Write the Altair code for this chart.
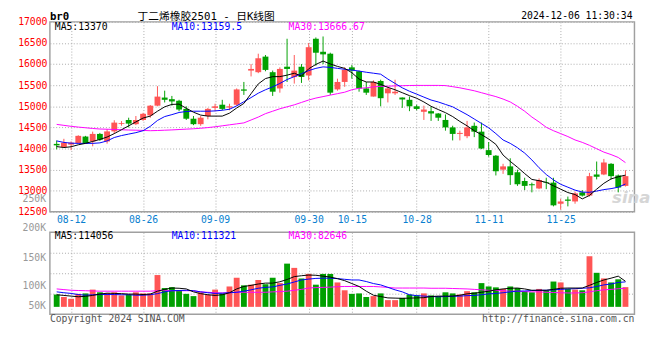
import altair as alt
import pandas as pd

# ---------------- data ----------------
DATES = ["08-08","08-09","08-12","08-13","08-14","08-15","08-16","08-19","08-20","08-21",
         "08-22","08-23","08-26","08-27","08-28","08-29","08-30","09-02","09-03","09-04",
         "09-05","09-06","09-09","09-10","09-11","09-12","09-13","09-18","09-19","09-20",
         "09-23","09-24","09-25","09-26","09-27","09-30","10-08","10-09","10-10","10-11",
         "10-14","10-15","10-16","10-17","10-18","10-21","10-22","10-23","10-24","10-25",
         "10-28","10-29","10-30","10-31","11-01","11-04","11-05","11-06","11-07","11-08",
         "11-11","11-12","11-13","11-14","11-15","11-18","11-19","11-20","11-21","11-22",
         "11-25","11-26","11-27","11-28","11-29","12-02","12-03","12-04","12-05","12-06"]

OPEN = [14110, 14037, 14092, 14129, 14284, 14168, 14346, 14168, 14406, 14580,
        14676, 14577, 14676, 14785, 15015, 15207, 15169, 15131, 14939, 14706,
        14577, 14770, 14962, 15038, 14970, 15038, 15400, 15846, 15808, 16177,
        15808, 15423, 15938, 15692, 15938, 15731, 16600, 16292, 16246, 15400,
        15577, 15923, 15831, 15423, 15231, 15600, 15308, 15308, 15208, 15154,
        15000, 14870, 14885, 14830, 14677, 14500, 14346, 14292, 14538, 14400,
        13962, 13830, 13500, 13577, 13438, 13231, 13154, 13054, 13200, 13192,
        12692, 12792, 12746, 12962, 12885, 13385, 13385, 13638, 13362, 13115]
HIGH = [14190, 14230, 14170, 14314, 14300, 14400, 14370, 14462, 14670, 14650,
        14730, 14770, 14845, 15030, 15477, 15370, 15246, 15154, 15000, 14770,
        14770, 14962, 15062, 15154, 15060, 15423, 15577, 16000, 16246, 16215,
        15846, 15923, 16600, 16215, 16000, 16500, 16631, 16654, 16270, 15654,
        15923, 15977, 15846, 15577, 15615, 15630, 15462, 15630, 15210, 15231,
        15038, 15015, 14985, 14840, 14808, 14540, 14423, 14654, 14615, 14615,
        14154, 13846, 13638, 13769, 13500, 13308, 13192, 13292, 13308, 13308,
        12808, 12862, 12977, 13015, 13423, 13692, 13754, 13654, 13385, 13485]
LOW = [13980, 14023, 13962, 14115, 14115, 14053, 14180, 14115, 14346, 14540,
       14500, 14555, 14655, 14730, 15000, 15092, 15015, 14884, 14677, 14554,
       14538, 14692, 14884, 14907, 14907, 15015, 15270, 15708, 15785, 15830,
       15246, 15323, 15577, 15538, 15554, 15615, 15962, 16000, 15270, 15370,
       15462, 15654, 15346, 15270, 15231, 15000, 15092, 15270, 14962, 14885,
       14907, 14677, 14654, 14654, 14423, 14192, 14192, 14245, 14270, 13985,
       13808, 13362, 13400, 13138, 13115, 13015, 12962, 13038, 13038, 12630,
       12554, 12630, 12692, 12862, 12862, 13269, 13369, 13269, 12962, 13100]
CLOSE = [14075, 14138, 14138, 14300, 14129, 14346, 14208, 14406, 14614, 14600,
         14590, 14676, 14822, 15015, 15230, 15154, 15115, 14923, 14706, 14577,
         14730, 14939, 15000, 14939, 15000, 15400, 15370, 15885, 16138, 15862,
         15346, 15885, 15885, 15846, 15692, 16400, 16269, 16230, 15323, 15577,
         15862, 15846, 15423, 15323, 15577, 15192, 15423, 15346, 15162, 15000,
         14938, 14923, 14830, 14730, 14500, 14346, 14370, 14500, 14400, 14000,
         13846, 13462, 13577, 13369, 13154, 13115, 13130, 13254, 13185, 12654,
         12746, 12762, 12938, 12885, 13346, 13331, 13669, 13346, 13077, 13346]

MA5 = [14046, 14023, 14042, 14088, 14122, 14168, 14215, 14272, 14353, 14445,
       14538, 14630, 14722, 14768, 14884, 14988, 15045, 15052, 14953, 14861,
       14792, 14768, 14768, 14768, 14838, 14960, 15068, 15299, 15530, 15657,
       15703, 15703, 15738, 15784, 15715, 15888, 15992, 16072, 16003, 15945,
       15899, 15795, 15645, 15576, 15576, 15518, 15449, 15392, 15322, 15253,
       15191, 15103, 15000, 14923, 14849, 14757, 14641, 14538, 14422, 14330,
       14226, 14099, 13845, 13695, 13557, 13407, 13268, 13238, 13199, 13118,
       13038, 12957, 12911, 12807, 12888, 13038, 13176, 13280, 13331, 13370]
MA10 = [14180, 14145, 14127, 14122, 14122, 14122, 14134, 14180, 14261, 14307,
        14342, 14376, 14422, 14526, 14665, 14757, 14803, 14854, 14877, 14884,
        14884, 14884, 14891, 14907, 14930, 15011, 15108, 15207, 15311, 15392,
        15461, 15542, 15634, 15703, 15772, 15846, 15899, 15934, 15922, 15899,
        15876, 15858, 15835, 15807, 15784, 15761, 15645, 15542, 15438, 15357,
        15288, 15218, 15149, 15103, 15045, 14988, 14895, 14803, 14699, 14595,
        14492, 14353, 14203, 14122, 14018, 13892, 13730, 13545, 13384, 13257,
        13153, 13084, 13015, 12969, 12962, 12992, 13027, 13050, 13084, 13159.5]
MA30 = [14572, 14549, 14526, 14508, 14492, 14475, 14462, 14457, 14452, 14445,
        14438, 14434, 14429, 14422, 14427, 14434, 14441, 14450, 14459, 14468,
        14480, 14496, 14515, 14538, 14561, 14584, 14607, 14676, 14745, 14826,
        14884, 14942, 14988, 15035, 15092, 15149, 15195, 15230, 15265, 15300,
        15334, 15392, 15427, 15438, 15461, 15472, 15477, 15484, 15488, 15493,
        15495, 15495, 15495, 15495, 15491, 15465, 15438, 15403, 15368, 15322,
        15276, 15230, 15172, 15103, 15000, 14884, 14746, 14630, 14503, 14422,
        14353, 14284, 14203, 14146, 14076, 13995, 13915, 13857, 13788, 13666.67]

VOLUME = [55000, 44000, 36000, 58000, 60000, 77000, 65000, 62000, 65000, 51000,
          55000, 65000, 60000, 60000, 142000, 84000, 88000, 74000, 58000, 48000,
          65000, 55000, 77000, 60000, 91000, 130000, 96000, 99000, 120000, 101000,
          130000, 106000, 193000, 174000, 127000, 147000, 99000, 147000, 147000, 109000,
          74000, 58000, 60000, 44000, 48000, 60000, 30000, 30000, 40000, 55000,
          51000, 60000, 51000, 48000, 65000, 60000, 55000, 70000, 65000, 106000,
          91000, 87000, 80000, 91000, 84000, 70000, 65000, 80000, 74000, 113000,
          109000, 80000, 77000, 74000, 226000, 152000, 127000, 109000, 123000, 88000]
VMA5 = [54000, 51000, 48000, 45000, 47000, 51000, 57000, 61000, 60000, 59000,
        57000, 57000, 55000, 57000, 70000, 78000, 84000, 83000, 80000, 67000,
        59000, 54000, 51000, 54000, 63000, 80000, 91000, 96000, 102000, 106000,
        106000, 112000, 122000, 135000, 139000, 142000, 141000, 137000, 133000, 126000,
        117000, 104000, 91000, 70000, 52000, 46000, 40000, 39000, 38000, 39000,
        40000, 41000, 46000, 48000, 48000, 48000, 52000, 58000, 61000, 65000,
        70000, 76000, 80000, 83000, 84000, 80000, 74000, 74000, 74000, 78000,
        83000, 84000, 84000, 84000, 96000, 109000, 120000, 128000, 137000, 114056]
VMA10 = [67000, 63000, 60000, 55000, 52000, 54000, 55000, 55000, 55000, 54000,
         54000, 52000, 52000, 54000, 59000, 67000, 72000, 73000, 74000, 72000,
         67000, 63000, 60000, 61000, 63000, 65000, 70000, 76000, 83000, 87000,
         89000, 96000, 102000, 111000, 120000, 124000, 127000, 128000, 128000, 126000,
         123000, 120000, 120000, 113000, 104000, 98000, 87000, 76000, 67000, 54000,
         50000, 48000, 46000, 45000, 46000, 47000, 48000, 50000, 51000, 54000,
         58000, 60000, 63000, 67000, 70000, 71000, 73000, 74000, 74000, 76000,
         78000, 80000, 81000, 83000, 85000, 91000, 98000, 102000, 109000, 111321]
VMA30 = [80000, 77000, 74000, 73000, 72000, 71000, 70000, 70000, 70000, 70000,
         70000, 70000, 70000, 70000, 72000, 74000, 72000, 72000, 72000, 72000,
         67000, 65000, 63000, 62000, 63000, 65000, 65000, 65000, 65000, 65000,
         67000, 68000, 70000, 74000, 78000, 84000, 86000, 87000, 88000, 90000,
         91000, 91000, 91000, 91000, 91000, 89000, 87000, 84000, 84000, 84000,
         84000, 84000, 83000, 83000, 83000, 82000, 81000, 80000, 78000, 76000,
         74000, 73000, 72000, 70000, 70000, 68000, 67000, 67000, 65000, 64000,
         63000, 62000, 62000, 63000, 67000, 72000, 76000, 78000, 81000, 82646]

TICK_DATES = ["08-12", "08-26", "09-09", "09-30", "10-15", "10-28", "11-11", "11-25"]
PRICE_TICKS = [12500, 13000, 13500, 14000, 14500, 15000, 15500, 16000, 16500, 17000]
VOL_AXIS_LABELS = ["250K", "200K", "150K", "100K", "50K"]
TITLE = "丁二烯橡胶2501 - 日K线图"
CODE = "br0"
STAMP = "2024-12-06 11:30:34"
FOOT_LEFT = "Copyright 2024 SINA.COM"
FOOT_RIGHT = "http://finance.sina.com.cn"

# ---------------- styling ----------------
MONO = "DejaVu Sans Mono"
TITLE_FONT = "DejaVu Sans Mono, Noto Sans CJK SC"
RED = "#ff5555"
GREEN = "#00a000"
GRID = "#aaaaaa"
W, H_MAIN, H_VOL = 600, 195, 84

df = pd.DataFrame({
    "idx": list(range(len(DATES))), "date": DATES,
    "open": OPEN, "high": HIGH, "low": LOW, "close": CLOSE,
    "ma5": MA5, "ma10": MA10, "ma30": MA30,
    "vol": VOLUME, "vma5": VMA5, "vma10": VMA10, "vma30": VMA30,
})


def fmt(v):
    return str(v)


label_expr = "[" + ",".join("'" + d + "'" for d in DATES) + "][datum.value]"
tick_idx = [DATES.index(d) for d in TICK_DATES]
x_scale = alt.Scale(domain=[-0.266, 79.574], nice=False, zero=False)

x_main = alt.X("idx:Q", scale=x_scale, axis=alt.Axis(
    values=tick_idx, labelExpr=label_expr, grid=True, gridDash=[1, 2], gridColor=GRID,
    domain=False, ticks=False, tickSize=0, labelPadding=3, labelColor="#0a7fd0",
    labelFont=MONO, labelFontSize=10, labelOverlap=False, labelFlush=False, title=None))
x_vol = alt.X("idx:Q", scale=x_scale, axis=alt.Axis(
    values=tick_idx, grid=True, gridDash=[1, 2], gridColor=GRID, labels=False,
    domain=False, ticks=False, title=None))

p_scale = alt.Scale(domain=[12500, 17000], nice=False, zero=False)
p_axis = alt.Axis(values=PRICE_TICKS, format="d", grid=True, gridDash=[1, 2], gridColor=GRID,
                  domain=False, ticks=False, tickSize=0, labelPadding=3, labelColor="#ff0000",
                  labelFont=MONO, labelFontSize=10, labelBaseline="middle",
                  labelFlush=False, labelOverlap=False, title=None)

VOL_BOTTOM, VOL_TOP = -32600, 332800
v_scale = alt.Scale(domain=[VOL_BOTTOM, VOL_TOP], nice=False, zero=False)
v_grid = [VOL_TOP - (VOL_TOP - VOL_BOTTOM) * f for f in (0.25, 0.5, 0.75)]
v_axis = alt.Axis(values=v_grid, grid=True, gridDash=[1, 2], gridColor=GRID,
                  labels=False, ticks=False, domain=False, title=None)

updown = alt.condition("datum.close >= datum.open", alt.value(RED), alt.value(GREEN))
base = alt.Chart(df)


def note(text, x, y, color, size=10, align="left", font=MONO, weight="normal", style="normal"):
    return alt.Chart(pd.DataFrame({"t": [text]})).mark_text(
        align=align, baseline="middle", color=color, fontSize=size, font=font,
        fontWeight=weight, fontStyle=style).encode(
        x=alt.value(x), y=alt.value(y), text="t:N")


wicks = base.mark_rule(strokeWidth=1).encode(
    x=x_main, y=alt.Y("low:Q", scale=p_scale, axis=p_axis), y2="high:Q", color=updown)
bodies = base.mark_bar(size=6).encode(
    x=x_main, y=alt.Y("open:Q", scale=p_scale, axis=p_axis), y2="close:Q", color=updown)
ma_lines = [
    base.mark_line(color=c, strokeWidth=1).encode(
        x=x_main, y=alt.Y(f + ":Q", scale=p_scale, axis=p_axis))
    for f, c in (("ma30", "#ff00ff"), ("ma10", "#0000ff"), ("ma5", "#000000"))
]

main = alt.layer(
    wicks, bodies, *ma_lines,
    note("sina", 577, 181, "#d6d6d6", size=17, font="DejaVu Sans", weight="bold", style="italic"),
    note("MA5:" + fmt(MA5[-1]), 5, 5, "#000000"),
    note("MA10:" + fmt(MA10[-1]), 125, 5, "#0000ff"),
    note("MA30:" + fmt(MA30[-1]), 245, 5, "#ff00ff"),
    note(CODE, 0, -5.3, "#000000", size=11, weight="bold"),
    note(TITLE, 90, -5, "#000000", size=11, font=TITLE_FONT),
    note(STAMP, 598, -5.8, "#000000", align="right"),
).properties(width=W, height=H_MAIN)

vol_bars = base.mark_bar(size=6).encode(
    x=x_vol, y=alt.Y("vol:Q", scale=v_scale, axis=v_axis), y2=alt.datum(0), color=updown)
vol_lines = [
    base.mark_line(color=c, strokeWidth=1).encode(
        x=x_vol, y=alt.Y(f + ":Q", scale=v_scale, axis=v_axis))
    for f, c in (("vma30", "#ff00ff"), ("vma10", "#0000ff"), ("vma5", "#000000"))
]
vol_label_y = [-34.5, -4.5, 26.5, 55.5, 75.5]

vol = alt.layer(
    vol_bars, *vol_lines,
    note("MA5:" + fmt(VMA5[-1]), 5, 4, "#000000"),
    note("MA10:" + fmt(VMA10[-1]), 125, 4, "#0000ff"),
    note("MA30:" + fmt(VMA30[-1]), 245, 4, "#ff00ff"),
    *[note(t, -4, y, "#999999", align="right") for t, y in zip(VOL_AXIS_LABELS, vol_label_y)],
    note(FOOT_LEFT, 0, 89, "#555555"),
    note(FOOT_RIGHT, 600, 89, "#555555", align="right"),
).properties(width=W, height=H_VOL)

chart = alt.vconcat(main, vol, spacing=21, bounds="flush").configure(
    padding={"left": 9, "top": -3, "right": 0, "bottom": 0}
).configure_view(stroke="#a0a0a0", strokeWidth=1.5)

chart.save("out.html", embed_options={"renderer": "svg", "actions": False})
